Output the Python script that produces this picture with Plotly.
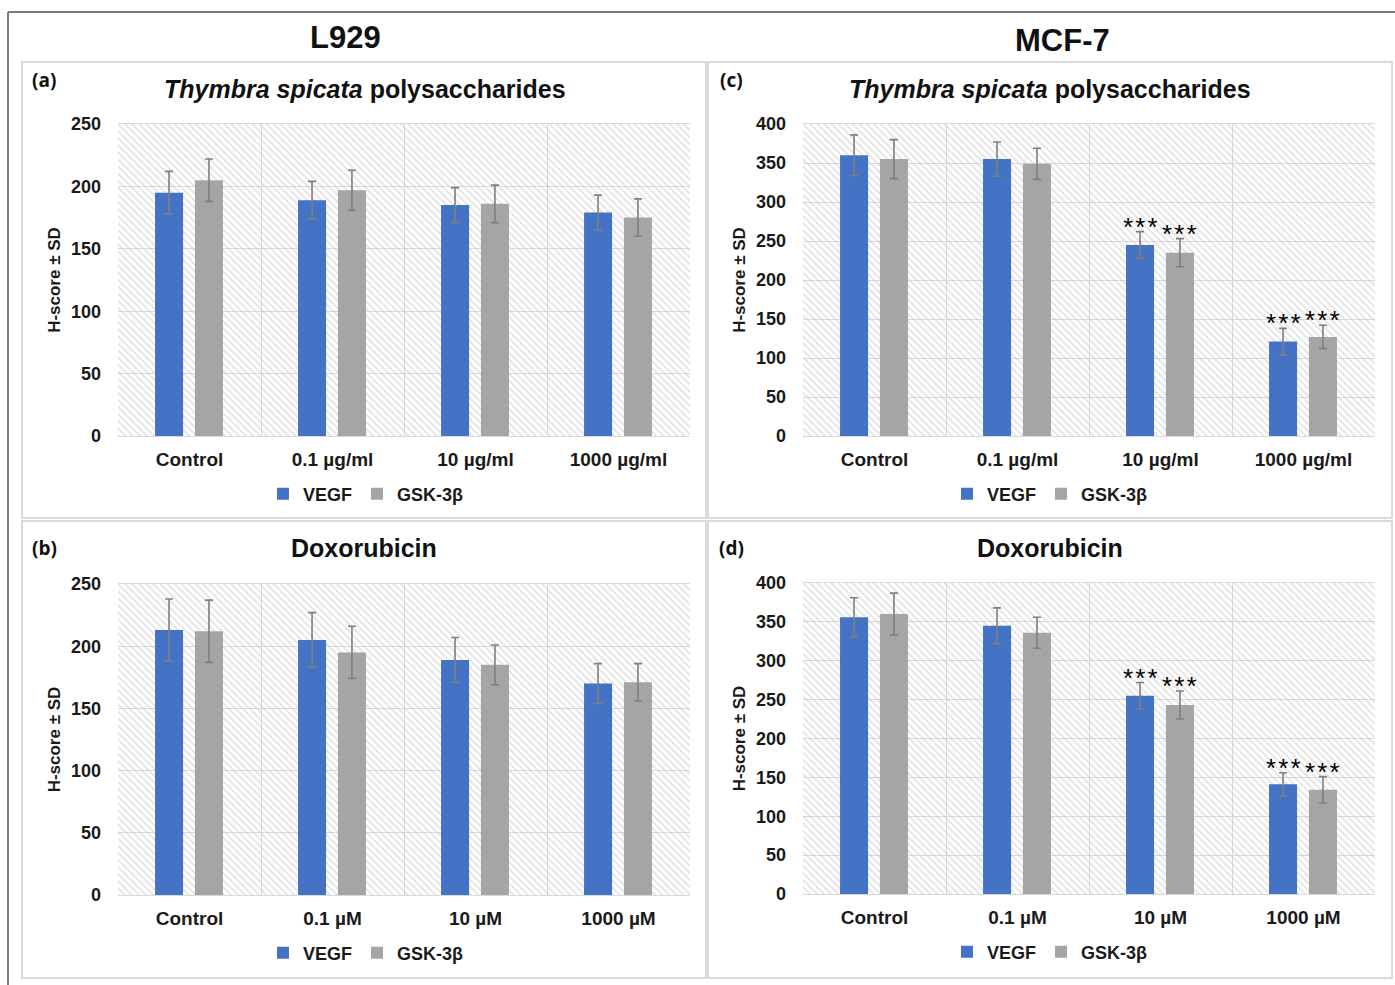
import plotly.graph_objects as go

# ---------------- data ----------------
cats_ts = ["Control", "0.1 µg/ml", "10 µg/ml", "1000 µg/ml"]
cats_dox = ["Control", "0.1 µM", "10 µM", "1000 µM"]

a_vegf = [195, 189, 185, 179]
a_vegf_sd = [17, 15, 14, 14]
a_gsk = [205, 197, 186, 175]
a_gsk_sd = [17, 16, 15, 15]

b_vegf = [213, 205, 189, 170]
b_vegf_sd = [25, 22, 18, 16]
b_gsk = [212, 195, 185, 171]
b_gsk_sd = [25, 21, 16, 15]

c_vegf = [360, 355, 245, 121]
c_vegf_sd = [26, 22, 17, 17]
c_gsk = [355, 349, 235, 127]
c_gsk_sd = [25, 20, 18, 15]

d_vegf = [356, 345, 255, 141]
d_vegf_sd = [25, 23, 17, 15]
d_gsk = [360, 336, 243, 134]
d_gsk_sd = [27, 20, 18, 17]

sig_none = ["", "", "", ""]
sig_c = ["", "", "***", "***"]
sig_d = ["", "", "***", "***"]

series_names = ["VEGF", "GSK-3β"]
ymax_l929 = 250
ymax_mcf = 400

# ---------------- style ----------------
W, H = 1395, 985
BLUE = "#4472C4"
GRAY = "#A5A5A5"
ERR = "#7F7F7F"
GRID = "#D9D9D9"
FONT = "Liberation Sans"
BAR_W = 0.196
OFF_V = -0.241
OFF_G = 0.038


def fx(p):
    return p / W


def fy(p):
    return 1 - p / H


TS_TITLE = "<b><i>Thymbra spicata</i> polysaccharides</b>"
DOX_TITLE = "<b>Doxorubicin</b>"

panels = [
    dict(n=1, letter="(a)", cats=cats_ts, v=a_vegf, vs=a_vegf_sd, g=a_gsk, gs=a_gsk_sd,
         sig=sig_none, ymax=ymax_l929, title=TS_TITLE,
         xd=(118, 690), yd=(124, 436), box=(22, 62, 706, 518), tcx=365, tcy=89, lx=366, ly=494, lab=(44, 80)),
    dict(n=2, letter="(b)", cats=cats_dox, v=b_vegf, vs=b_vegf_sd, g=b_gsk, gs=b_gsk_sd,
         sig=sig_none, ymax=ymax_l929, title=DOX_TITLE,
         xd=(118, 690), yd=(584, 895), box=(22, 521, 706, 978), tcx=364, tcy=548, lx=366, ly=953, lab=(44, 548)),
    dict(n=3, letter="(c)", cats=cats_ts, v=c_vegf, vs=c_vegf_sd, g=c_gsk, gs=c_gsk_sd,
         sig=sig_c, ymax=ymax_mcf, title=TS_TITLE,
         xd=(803, 1375), yd=(124, 436), box=(708, 62, 1392, 518), tcx=1050, tcy=89, lx=1050, ly=494, lab=(731, 80)),
    dict(n=4, letter="(d)", cats=cats_dox, v=d_vegf, vs=d_vegf_sd, g=d_gsk, gs=d_gsk_sd,
         sig=sig_d, ymax=ymax_mcf, title=DOX_TITLE,
         xd=(803, 1375), yd=(583, 894), box=(708, 521, 1392, 978), tcx=1050, tcy=548, lx=1050, ly=952, lab=(731, 548)),
]

fig = go.Figure()
annotations = []
shapes = []
layout_axes = {}

for p in panels:
    n = p["n"]
    xr = "x" if n == 1 else f"x{n}"
    yr = "y" if n == 1 else f"y{n}"
    lg = "legend" if n == 1 else f"legend{n}"

    # hatched plot-area background, one block per category
    fig.add_trace(go.Bar(
        x=p["cats"], y=[p["ymax"]] * len(p["cats"]), width=1, offset=-0.5,
        xaxis=xr, yaxis=yr, showlegend=False, hoverinfo="skip",
        marker=dict(color="rgba(0,0,0,0)", line=dict(width=0),
                    pattern=dict(shape="\\", fgcolor="#C8C8C8", bgcolor="rgba(0,0,0,0)",
                                 size=5, solidity=0.35)),
    ))
    for vals, sds, name, col, off in [(p["v"], p["vs"], series_names[0], BLUE, OFF_V),
                                      (p["g"], p["gs"], series_names[1], GRAY, OFF_G)]:
        fig.add_trace(go.Bar(
            x=p["cats"], y=vals, name=name, width=BAR_W, offset=off,
            xaxis=xr, yaxis=yr, legend=lg,
            marker=dict(color=col, line=dict(width=0)),
            error_y=dict(type="data", array=sds, visible=True, color=ERR, thickness=1.6, width=4),
        ))
        # significance stars
        for i, s in enumerate(p["sig"]):
            if s:
                annotations.append(dict(
                    x=i + off + BAR_W / 2, y=vals[i] + sds[i], xref=xr, yref=yr,
                    text="\u200a".join(s), showarrow=False, yanchor="bottom", xanchor="center",
                    yshift=-12, font=dict(family=FONT, size=26, color="black")))

    axkey = "" if n == 1 else str(n)
    layout_axes[f"xaxis{axkey}"] = dict(
        domain=[fx(p["xd"][0]), fx(p["xd"][1])], anchor=yr, automargin=False,
        type="category", tickson="boundaries", showgrid=True, gridcolor=GRID, gridwidth=1,
        showline=True, linecolor=GRID, linewidth=1, mirror=True,
        ticks="", ticklabelstandoff=6, fixedrange=True,
        tickfont=dict(family=FONT, size=19, color="#1a1a1a", weight="bold"),
    )
    layout_axes[f"yaxis{axkey}"] = dict(
        domain=[fy(p["yd"][1]), fy(p["yd"][0])], anchor=xr, automargin=False,
        range=[0, p["ymax"]], dtick=50, showgrid=True, gridcolor=GRID, gridwidth=1,
        zeroline=False, ticks="", ticklabelstandoff=16, fixedrange=True,
        tickfont=dict(family=FONT, size=18, color="#1a1a1a", weight="bold"),
        title=dict(text="H-score ± SD", standoff=6,
                   font=dict(family=FONT, size=17, color="#1a1a1a", weight="bold")),
    )
    layout_axes[lg] = dict(
        orientation="h", x=fx(p["lx"]), y=fy(p["ly"]), xanchor="center", yanchor="middle",
        xref="container", yref="container",
        font=dict(family=FONT, size=18, color="#1a1a1a", weight="bold"),
        bgcolor="rgba(0,0,0,0)", itemwidth=30, tracegroupgap=0,
    )

    # panel box
    bx0, by0, bx1, by1 = p["box"]
    shapes.append(dict(type="rect", xref="paper", yref="paper",
                       x0=fx(bx0), x1=fx(bx1), y0=fy(by1), y1=fy(by0),
                       line=dict(color="#DADADA", width=2), layer="below"))
    # panel title
    annotations.append(dict(x=fx(p["tcx"]), y=fy(p["tcy"]), xref="paper", yref="paper",
                            text=p["title"], showarrow=False, xanchor="center", yanchor="middle",
                            font=dict(family=FONT, size=25, color="#111111")))
    # panel letter
    annotations.append(dict(x=fx(p["lab"][0]), y=fy(p["lab"][1]), xref="paper", yref="paper",
                            text=f"<b>{p['letter']}</b>", showarrow=False, xanchor="center",
                            yanchor="middle", font=dict(family="Open Sans", size=19, color="#111111")))

# column headers
annotations.append(dict(x=fx(345), y=fy(38), xref="paper", yref="paper", text="<b>L929</b>",
                        showarrow=False, xanchor="center", yanchor="middle",
                        font=dict(family=FONT, size=31, color="#111111")))
annotations.append(dict(x=fx(1062), y=fy(40), xref="paper", yref="paper", text="<b>MCF-7</b>",
                        showarrow=False, xanchor="center", yanchor="middle",
                        font=dict(family=FONT, size=31, color="#111111")))

# outer frame (top and left edges)
shapes.append(dict(type="line", xref="paper", yref="paper", x0=fx(8), x1=1, y0=fy(12), y1=fy(12),
                   line=dict(color="#7A7A7A", width=2)))
shapes.append(dict(type="line", xref="paper", yref="paper", x0=fx(8), x1=fx(8), y0=0, y1=fy(12),
                   line=dict(color="#7A7A7A", width=2)))

fig.update_layout(
    width=W, height=H, margin=dict(l=0, r=0, t=0, b=0, pad=0, autoexpand=False),
    paper_bgcolor="white", plot_bgcolor="white",
    barmode="overlay", annotations=annotations, shapes=shapes,
    font=dict(family=FONT, color="#1a1a1a"),
    **layout_axes,
)

fig.write_html(
    "out.html",
    config={"displayModeBar": False, "responsive": False},
    post_script=(
        "document.body.style.margin='0';"
        "document.documentElement.style.overflow='hidden';"
        "var gd=document.getElementById('{plot_id}');"
        "gd.style.position='fixed';gd.style.left='0px';gd.style.top='0px';"
    ),
)
